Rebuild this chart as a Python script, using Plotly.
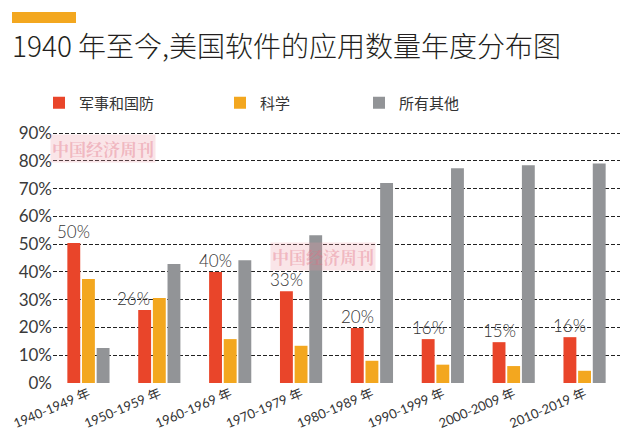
import plotly.graph_objects as go

categories = ["1940-1949 年", "1950-1959 年", "1960-1969 年", "1970-1979 年",
              "1980-1989 年", "1990-1999 年", "2000-2009 年", "2010-2019 年"]
military = [50.4, 26.3, 40.0, 33.0, 19.8, 15.8, 14.7, 16.5]
science = [37.4, 30.6, 15.8, 13.4, 8.0, 6.6, 6.1, 4.4]
others = [12.6, 42.8, 44.2, 53.2, 72.0, 77.3, 78.4, 79.0]
military_labels = ["50%", "26%", "40%", "33%", "20%", "16%", "15%", "16%"]
label_extra_shift = [0, -11, 0, 0, 0, 0, 0, 0]
y_ticks = [0, 10, 20, 30, 40, 50, 60, 70, 80, 90]
y_ticktext = [f"{v}%" for v in y_ticks]

names = ["军事和国防", "科学", "所有其他"]
colors = ["#E9452A", "#F3A71F", "#929497"]

W, H = 631, 447
ML, MR, MT, MB = 53, 11, 120, 64
PW = W - ML - MR
PH = H - MT - MB
Y_MAX = 90 * PH / 250.0  # keep 90% at y=133 px

def px_x(px):
    return (px - ML) / PW

def px_y(py):
    return (H - MB - py) / PH

font_main = "Lato, 'Noto Sans CJK SC', sans-serif"
cjk = "'Noto Sans CJK SC', sans-serif"

fig = go.Figure()
legend_ids = ["legend", "legend2", "legend3"]
for vals, name, col, lg in zip([military, science, others], names, colors, legend_ids):
    fig.add_trace(go.Bar(x=categories, y=vals, name=name, marker_color=col,
                         marker_line_width=0, legend=lg))

bargap = 0.38
bargroupgap = 0.12
cat_w = PW / len(categories)
slot = cat_w * (1 - bargap) / 3
red_offset = -slot

for cat, v, lab, ex in zip(categories, military, military_labels, label_extra_shift):
    fig.add_annotation(x=cat, y=v, text=lab, showarrow=False, yanchor="bottom",
                       xanchor="center", xshift=red_offset + ex, yshift=-1,
                       font=dict(family=font_main, size=17, color="#333333", weight=300))

# watermarks
for cx, cy in [(103, 148.5), (323, 256.5)]:
    fig.add_annotation(xref="paper", yref="paper", x=px_x(cx), y=px_y(cy),
                       text="中国经济周刊", showarrow=False, xanchor="center", yanchor="middle",
                       font=dict(family="'Noto Serif CJK SC', serif", size=17,
                                 color="rgba(225,110,130,0.4)", weight="bold"),
                       bgcolor="rgba(235,150,165,0.25)", borderpad=1)

# orange header bar
fig.add_shape(type="rect", xref="paper", yref="paper",
              x0=px_x(12), x1=px_x(76), y0=px_y(23), y1=px_y(12),
              fillcolor="#F3A71F", line_width=0)

legend_common = dict(orientation="h", yanchor="middle", xanchor="left",
                     font=dict(family=cjk, size=15, color="#333333"),
                     bgcolor="rgba(0,0,0,0)", itemwidth=30)
leg_x = [52, 233, 372]
layout_legends = {}
for lg, lx in zip(legend_ids, leg_x):
    layout_legends[lg] = dict(legend_common, x=px_x(lx - 13), y=px_y(103))

fig.update_layout(
    width=W, height=H,
    margin=dict(l=ML, r=MR, t=MT, b=MB, autoexpand=False),
    paper_bgcolor="white", plot_bgcolor="white",
    barmode="group", bargap=bargap, bargroupgap=bargroupgap,
    showlegend=True,
    title=dict(text="1940 年至今,美国软件的应用数量年度分布图",
               xref="container", x=12 / W, xanchor="left",
               yref="container", y=1 - 47 / H, yanchor="middle",
               font=dict(family=cjk, size=28, color="#231f20", weight=300)),
    xaxis=dict(tickangle=-23, tickfont=dict(family=font_main, size=13, color="#333333"),
               showgrid=False, showline=False, ticks="", zeroline=False),
    yaxis=dict(range=[0, Y_MAX], tickmode="array", tickvals=y_ticks, ticktext=y_ticktext,
               tickfont=dict(family=font_main, size=17, color="#3a3a3a"),
               showgrid=True, gridcolor="#222222", griddash="4px,2px", gridwidth=1,
               zeroline=False, showline=False, ticks=""),
    **layout_legends,
)

fig.write_html("out.html", config={"displayModeBar": False},
               post_script="document.body.style.margin='0';")
